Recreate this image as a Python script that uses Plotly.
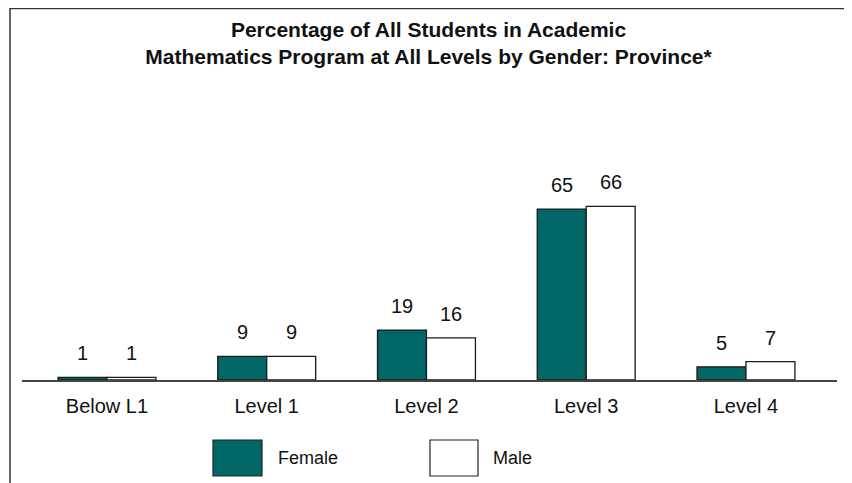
import plotly.graph_objects as go

categories = ["Below L1", "Level 1", "Level 2", "Level 3", "Level 4"]
female = [1, 9, 19, 65, 5]
male = [1, 9, 16, 66, 7]
series_names = ["Female", "Male"]

TEAL = "rgb(0,102,102)"
FONT = "Liberation Sans, Arial, sans-serif"

OFF = 8  # page body margin
W, H = 852 - OFF, 483 - OFF
# plot area in screen coordinates: x 22..837, y 117..380
L = 22 - OFF
R = W - (837 - OFF)
T = 117 - OFF
B = H - (380 - OFF)
pw, ph = W - L - R, H - T - B

def px(sx):
    return (sx - OFF - L) / pw

def py(sy):
    return (H - B - (sy - OFF)) / ph

fig = go.Figure()
fig.add_trace(go.Bar(x=categories, y=female, name=series_names[0],
                     marker=dict(color=TEAL, line=dict(color="#1a1a1a", width=1.3)),
                     showlegend=False, hoverinfo="x+y"))
fig.add_trace(go.Bar(x=categories, y=male, name=series_names[1],
                     marker=dict(color="white", line=dict(color="#1a1a1a", width=1.3)),
                     showlegend=False, hoverinfo="x+y"))

bar_px = 0.613 / 2 * (pw / 5.102)
annotations = []
for vals, sh in ((female, -bar_px / 2), (male, bar_px / 2)):
    for c, v in zip(categories, vals):
        annotations.append(dict(x=c, y=v, xref="x", yref="y", text=str(v),
                                showarrow=False, yanchor="bottom", xshift=sh, yshift=11,
                                font=dict(family=FONT, size=20, color="#111")))

shapes = [
    dict(type="rect", xref="paper", yref="paper",
         x0=px(10), x1=px(848), y0=py(8.5), y1=py(500),
         line=dict(color="#333", width=1.5), fillcolor="rgba(0,0,0,0)"),
    dict(type="rect", xref="paper", yref="paper",
         x0=px(213), x1=px(262), y0=py(440), y1=py(476),
         line=dict(color="#222", width=1.2), fillcolor=TEAL),
    dict(type="rect", xref="paper", yref="paper",
         x0=px(430), x1=px(478), y0=py(440), y1=py(476),
         line=dict(color="#222", width=1.2), fillcolor="white"),
]
annotations.append(dict(x=px(276), y=py(458), xref="paper", yref="paper", text=series_names[0],
                        showarrow=False, xanchor="left", yanchor="middle",
                        font=dict(family=FONT, size=18, color="#111")))
annotations.append(dict(x=px(491), y=py(458), xref="paper", yref="paper", text=series_names[1],
                        showarrow=False, xanchor="left", yanchor="middle",
                        font=dict(family=FONT, size=18, color="#111")))

fig.update_layout(
    width=W, height=H,
    margin=dict(l=L, r=R, t=T, b=B, pad=0),
    paper_bgcolor="white", plot_bgcolor="white",
    barmode="group", bargap=0.387, bargroupgap=0,
    title=dict(text="<b>Percentage of All Students in Academic<br>Mathematics Program at All Levels by Gender: Province*</b>",
               x=(428.5 - OFF) / W, xanchor="center", y=1 - (37 - OFF) / H, yanchor="middle",
               font=dict(family=FONT, size=21, color="#111")),
    xaxis=dict(range=[-0.532, 4.57], showline=True, linecolor="#444", linewidth=1.5,
               ticks="", showgrid=False, zeroline=False,
               tickfont=dict(family=FONT, size=20, color="#111"), ticklabelstandoff=7),
    yaxis=dict(range=[0, 100], visible=False, showgrid=False, zeroline=False),
    shapes=shapes, annotations=annotations,
)

fig.write_html("out.html")
